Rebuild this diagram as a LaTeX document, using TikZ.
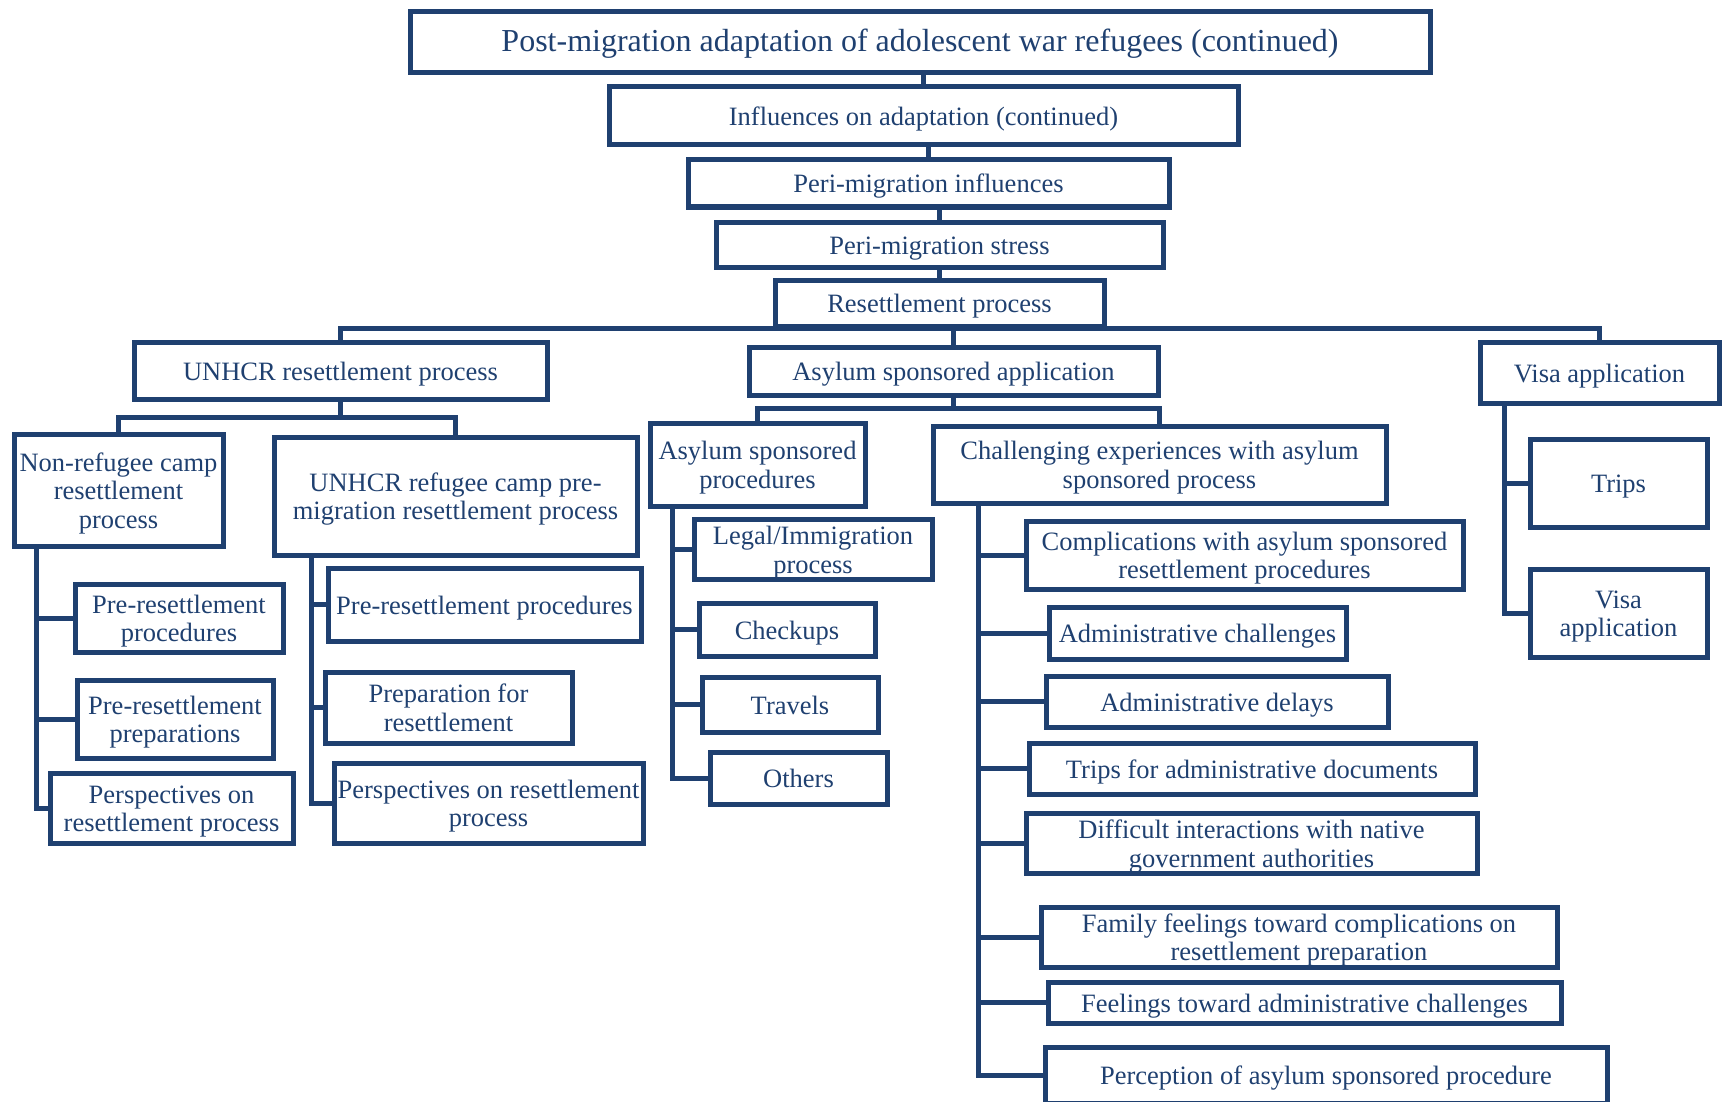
\documentclass[tikz,border=0pt]{standalone}
\usepackage{fontspec}
\setmainfont{Liberation Serif}
\definecolor{boxblue}{HTML}{1F4070}
% struts for the first and last line of a multi-line label
\newcommand\boxlines[1]{\rule{0pt}{25pt}#1\rule[-6pt]{0pt}{6pt}}
\begin{document}
\begin{tikzpicture}[x=1pt,y=-1pt,
  box/.style={draw=boxblue, line width=5pt, rectangle, inner sep=0pt, outer sep=0pt,
    align=center, text=boxblue, font=\fontsize{26.5}{28.5}\selectfont,
    execute at begin node={\rule{0pt}{25pt}},
    execute at end node={\rule[-6pt]{0pt}{6pt}}},
  link/.style={draw=boxblue, line width=5pt, line join=miter}]
\useasboundingbox (0,0) rectangle (1723,1102);

% top chain
\node[box, minimum width=1020, minimum height=61, font=\fontsize{32}{34}\selectfont] (title) at (920,42.5) {Post-migration adaptation of adolescent war refugees (continued)};
\node[box, minimum width=629, minimum height=58] (infl) at (923.5,116) {Influences on adaptation (continued)};
\node[box, minimum width=481, minimum height=47] (perinf) at (928.5,183.5) {Peri-migration influences};
\node[box, minimum width=447, minimum height=45] (stress) at (939.5,244.5) {Peri-migration stress};
\node[box, minimum width=329, minimum height=46] (resett) at (939.5,303) {Resettlement process};

% second level
\node[box, minimum width=413, minimum height=57] (unhcr) at (340.5,370.5) {UNHCR resettlement process};
\node[box, minimum width=409, minimum height=48] (asyapp) at (953.5,371) {Asylum sponsored application};
\node[box, minimum width=239, minimum height=61] (visa) at (1599.5,372.5) {Visa application};

% third level
\node[box, minimum width=209, minimum height=112] (nonref) at (118.5,490) {\boxlines{Non-refugee camp\\resettlement\\process}};
\node[box, minimum width=363, minimum height=118] (refcamp) at (455.5,496) {\boxlines{UNHCR refugee camp pre-\\migration resettlement process}};
\node[box, minimum width=215, minimum height=83] (asyproc) at (757.5,464.5) {\boxlines{Asylum sponsored\\procedures}};
\node[box, minimum width=453, minimum height=77] (chall) at (1159.5,464.5) {\boxlines{Challenging experiences with asylum\\sponsored process}};

% non-refugee camp branch
\node[box, minimum width=208, minimum height=68] (pre1) at (179,618) {\boxlines{Pre-resettlement\\procedures}};
\node[box, minimum width=196, minimum height=78] (prep1) at (175,719) {\boxlines{Pre-resettlement\\preparations}};
\node[box, minimum width=243, minimum height=70] (persp1) at (171.5,808) {\boxlines{Perspectives on\\resettlement process}};

% refugee camp branch
\node[box, minimum width=313, minimum height=73] (pre2) at (484.5,604.5) {Pre-resettlement procedures};
\node[box, minimum width=247, minimum height=71] (prep2) at (448.5,707.5) {\boxlines{Preparation for\\resettlement}};
\node[box, minimum width=309, minimum height=80] (persp2) at (488.5,803) {\boxlines{Perspectives on resettlement\\process}};

% asylum procedures branch
\node[box, minimum width=238, minimum height=59] (legal) at (813,549.5) {\boxlines{Legal/Immigration\\process}};
\node[box, minimum width=176, minimum height=53] (checkups) at (787,629.5) {Checkups};
\node[box, minimum width=176, minimum height=55] (travels) at (790,704.5) {Travels};
\node[box, minimum width=177, minimum height=52] (others) at (798.5,778) {Others};

% challenging experiences branch
\node[box, minimum width=437, minimum height=68] (compl) at (1244.5,555) {\boxlines{Complications with asylum sponsored\\resettlement procedures}};
\node[box, minimum width=297, minimum height=52] (admch) at (1197.5,633) {Administrative challenges};
\node[box, minimum width=342, minimum height=51] (admdel) at (1217,701.5) {Administrative delays};
\node[box, minimum width=446, minimum height=51] (tripsdoc) at (1252,768.5) {Trips for administrative documents};
\node[box, minimum width=451, minimum height=59] (diffic) at (1251.5,843.5) {\boxlines{Difficult interactions with native\\government authorities}};
\node[box, minimum width=516, minimum height=60] (family) at (1299,937) {\boxlines{Family feelings toward complications on\\resettlement preparation}};
\node[box, minimum width=513, minimum height=41] (feel) at (1304.5,1002.5) {Feelings toward administrative challenges};
\node[box, minimum width=562, minimum height=56] (percep) at (1326,1075) {Perception of asylum sponsored procedure};

% visa branch
\node[box, minimum width=177, minimum height=88] (trips) at (1618.5,483) {Trips};
\node[box, minimum width=177, minimum height=88] (visaapp) at (1618.5,613) {\boxlines{Visa\\application}};

% bus levels
\coordinate (bus1) at (0,328);
\coordinate (bus2) at (0,417);
\coordinate (bus3) at (0,408);

% top chain links
\draw[link] (infl.north) -- (infl.north |- title.south);
\draw[link] (perinf.north) -- (perinf.north |- infl.south);
\draw[link] (stress.north) -- (stress.north |- perinf.south);
\draw[link] (resett.north) -- (resett.north |- stress.south);

% resettlement process to second level
\draw[link] (resett.south) -- (resett.south |- bus1);
\draw[link] (unhcr.north) |- (bus1 -| visa.north) -- (visa.north);
\draw[link] (asyapp.north) -- (asyapp.north |- bus1);

% UNHCR to its two processes
\draw[link] (unhcr.south) -- (unhcr.south |- bus2);
\draw[link] (nonref.north) |- (bus2 -| refcamp.north) -- (refcamp.north);

% asylum application to its two parts
\draw[link] (asyapp.south) -- (asyapp.south |- bus3);
\draw[link] (asyproc.north) |- (bus3 -| chall.north) -- (chall.north);

% spines
\foreach \c in {pre1,prep1,persp1}
  \draw[link] ([xshift=22pt]nonref.south west) |- (\c.west);
\foreach \c in {pre2,prep2,persp2}
  \draw[link] ([xshift=37pt]refcamp.south west) |- (\c.west);
\foreach \c in {legal,checkups,travels,others}
  \draw[link] ([xshift=22pt]asyproc.south west) |- (\c.west);
\foreach \c in {compl,admch,admdel,tripsdoc,diffic,family,feel,percep}
  \draw[link] ([xshift=45pt]chall.south west) |- (\c.west);
\foreach \c in {trips,visaapp}
  \draw[link] ([xshift=24pt]visa.south west) |- (\c.west);
\end{tikzpicture}
\end{document}
